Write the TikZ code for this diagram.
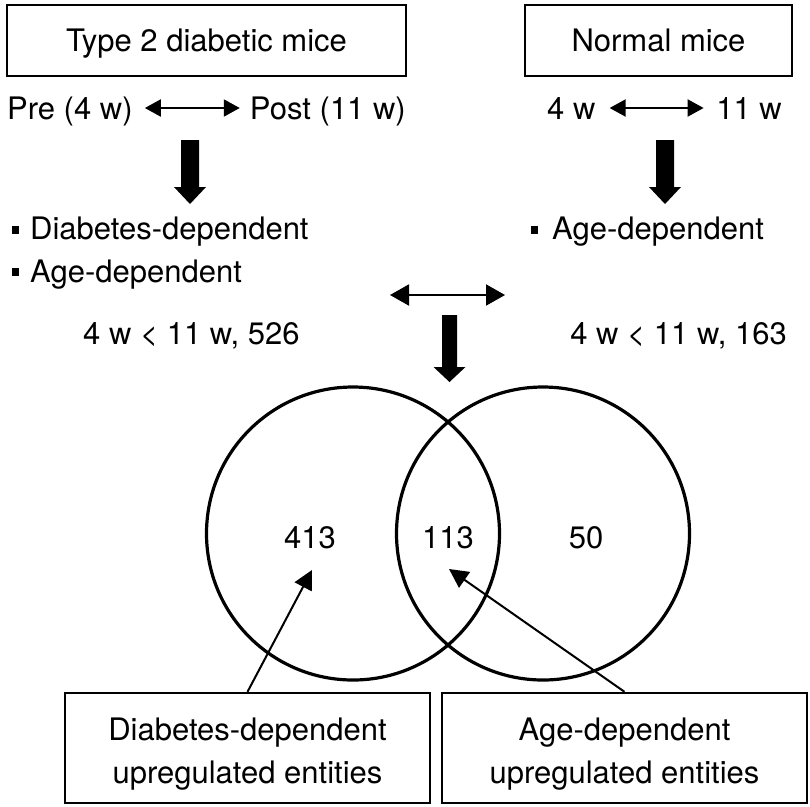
\documentclass[tikz,border=0pt]{standalone}
\usepackage{fontspec}
\setmainfont{TeX Gyre Heros}
\usetikzlibrary{arrows.meta}
\begin{document}
\begin{tikzpicture}[x=1pt,y=-1pt,
  every node/.style={font=\fontsize{31}{43}\selectfont},
  txt/.style={inner sep=0pt, text height=22pt, text depth=0pt},
  box/.style={draw, line width=2.4pt, inner sep=0pt},
  dbl/.style={line width=2pt, {Triangle[length=16pt,width=17pt]}-{Triangle[length=16pt,width=17pt]}},
  dblbig/.style={line width=2pt, {Triangle[length=19pt,width=21pt]}-{Triangle[length=19pt,width=21pt]}},
  ptr/.style={line width=2pt, -{Triangle[length=19pt,width=19pt]}},
  venn/.style={circle, draw, line width=3.2pt, minimum size=293pt, inner sep=0pt},
  bul/.style={fill, minimum width=6.5pt, minimum height=7.5pt, inner sep=0pt},
  big/.style={fill=black}
]
\useasboundingbox (0,0) rectangle (810,806);

% top boxes
\node[box, txt, minimum width=399pt, minimum height=71pt] (t2d) at (206.5,40.5) {Type 2 diabetic mice};
\node[box, txt, minimum width=267pt, minimum height=71pt] (nm) at (658.5,40.5) {Normal mice};

% comparison rows
\node[txt, anchor=west] (pre) at (7,108) {Pre (4 w)};
\node[txt, anchor=east] (post) at (406,108) {Post (11 w)};
\draw[dbl] ([xshift=12pt]pre.east) -- ([xshift=-10pt]post.west);

\node[txt, anchor=west] (n4) at (547,108) {4 w};
\node[txt, anchor=east] (n11) at (782,108) {11 w};
\draw[dbl] ([xshift=14pt]n4.east) -- ([xshift=-12.5pt]n11.west);

% thick arrows
\fill[big] (181,140) -- (199,140) -- (199,187) -- (206,187) -- (190,204) -- (174,187) -- (181,187) -- cycle;
\fill[big] (656,140) -- (674,140) -- (674,187) -- (681,187) -- (665,204) -- (649,187) -- (656,187) -- cycle;

% bullet lists
\node[bul] (b1) at (15.5,230) {};
\node[txt, anchor=west] (dd) at (30,228) {Diabetes-dependent};
\node[bul] (b2) at (15.5,272) {};
\node[txt, anchor=west] (ad) at (30,271) {Age-dependent};
\node[bul] (b3) at (534.5,230) {};
\node[txt, anchor=west] (ad2) at (552,228) {Age-dependent};

% middle comparison
\coordinate (cl) at (390,295);
\coordinate (cr) at (505,295);
\draw[dblbig] (cl) -- (cr);
\fill[big] (442,315) -- (457,315) -- (457,367) -- (465.5,367) -- (449.5,382) -- (433.5,367) -- (442,367) -- cycle;

\node[txt, anchor=west] (c1) at (83,333) {4 w < 11 w, 526};
\node[txt, anchor=east] (c2) at (787,333) {4 w < 11 w, 163};

% Venn
\node[venn] (vl) at (353,533.5) {};
\node[venn] (vr) at (543,533.5) {};
\node[txt] (n413) at (310,537) {413};
\node[txt] (n113) at (448,537) {113};
\node[txt] (n50) at (586,537) {50};

% bottom boxes
\node[box, minimum width=365pt, minimum height=110pt] (bl) at (247.5,748) {};
\node[align=center, inner sep=0pt] (blt) at (247.5,754) {Diabetes-dependent\\upregulated entities};
\node[box, minimum width=365pt, minimum height=110pt] (br) at (624.5,748) {};
\node[align=center, inner sep=0pt] (brt) at (624.5,754) {Age-dependent\\upregulated entities};

\coordinate (p413) at (312,570);
\coordinate (p113) at (449,569);
\draw[ptr] (bl.north) -- (p413);
\draw[ptr] (br.north) -- (p113);
\end{tikzpicture}
\end{document}
